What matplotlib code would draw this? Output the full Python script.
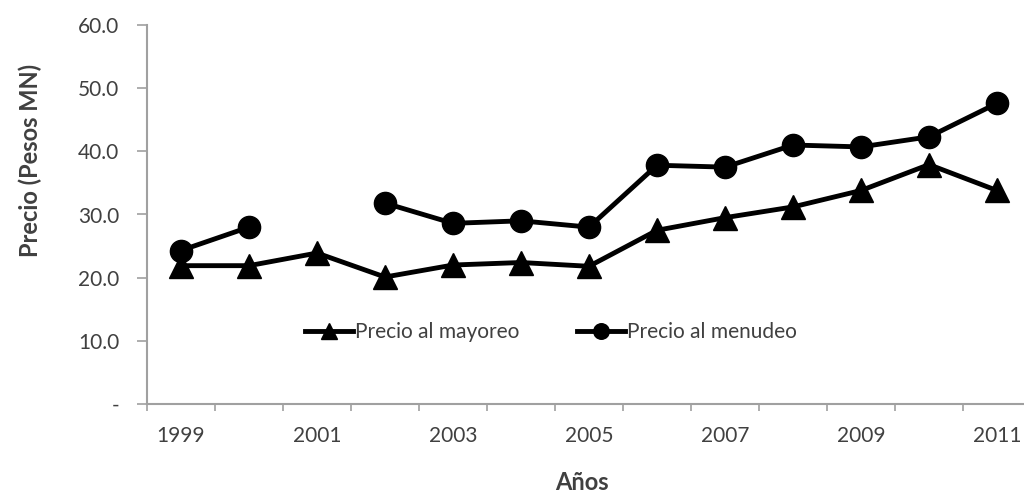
import numpy as np
import matplotlib
matplotlib.use("Agg")
from matplotlib import pyplot as plt
from matplotlib.ticker import FixedLocator, FuncFormatter

years = list(range(1999, 2012))
mayoreo = [21.9, 21.9, 23.9, 20.1, 22.0, 22.4, 21.8, 27.5, 29.5, 31.2, 33.8, 37.9, 33.8]
menudeo = [24.3, 28.0, np.nan, 31.8, 28.6, 29.0, 28.0, 37.8, 37.5, 41.0, 40.7, 42.3, 47.6]
yticks = [0, 10, 20, 30, 40, 50, 60]

plt.rcParams["font.family"] = ["Lato", "DejaVu Sans"]
text_color = "#404040"
axis_color = "#a0a0a0"

fig = plt.figure(figsize=(10.24, 4.98), dpi=100)
ax = fig.add_axes([147 / 1024, 94 / 498, 884 / 1024, 379 / 498])

x = np.arange(len(years))
ax.plot(x, mayoreo, color="black", linewidth=3.5, marker="^", markersize=17,
        label="Precio al mayoreo")
ax.plot(x, menudeo, color="black", linewidth=3.5, marker="o", markersize=16,
        label="Precio al menudeo")

ax.set_xlim(-0.5, len(years) - 0.5)
ax.set_ylim(0, 60)

ax.spines["top"].set_visible(False)
ax.spines["right"].set_visible(False)
for side in ("left", "bottom"):
    ax.spines[side].set_color(axis_color)
    ax.spines[side].set_linewidth(1.5)

# category labels every other year, tick marks at category boundaries
ax.xaxis.set_major_locator(FixedLocator(x[::2]))
ax.set_xticklabels([str(y) for y in years[::2]])
ax.xaxis.set_minor_locator(FixedLocator(np.arange(-0.5, len(years), 1.0)))
ax.tick_params(axis="x", which="major", length=0, pad=16, labelsize=15,
               labelcolor=text_color)
ax.tick_params(axis="x", which="minor", length=5, width=1.2, color=axis_color,
               direction="out")

ax.set_yticks(yticks)
ax.yaxis.set_major_formatter(FuncFormatter(lambda v, p: "-" if v == 0 else f"{v:.1f}"))
ax.tick_params(axis="y", length=7, width=1.2, color=axis_color, pad=13,
               labelsize=15, labelcolor=text_color)

fig.text(30 / 1024, 1 - 160 / 498, "Precio (Pesos MN)", rotation=90, fontsize=17,
         fontweight="bold", color=text_color, ha="center", va="center")
fig.text(582 / 1024, 1 - 482 / 498, "Años", fontsize=17, fontweight="bold",
         color=text_color, ha="center", va="center")

ax.legend(loc="center", bbox_to_anchor=((551 - 147) / 884, (404 - 332) / 379),
          ncol=2, frameon=False, fontsize=15, handlelength=2.3, handletextpad=0.1,
          columnspacing=2.8, labelcolor=text_color, markerscale=0.7)

fig.savefig("out.png", dpi=100)
